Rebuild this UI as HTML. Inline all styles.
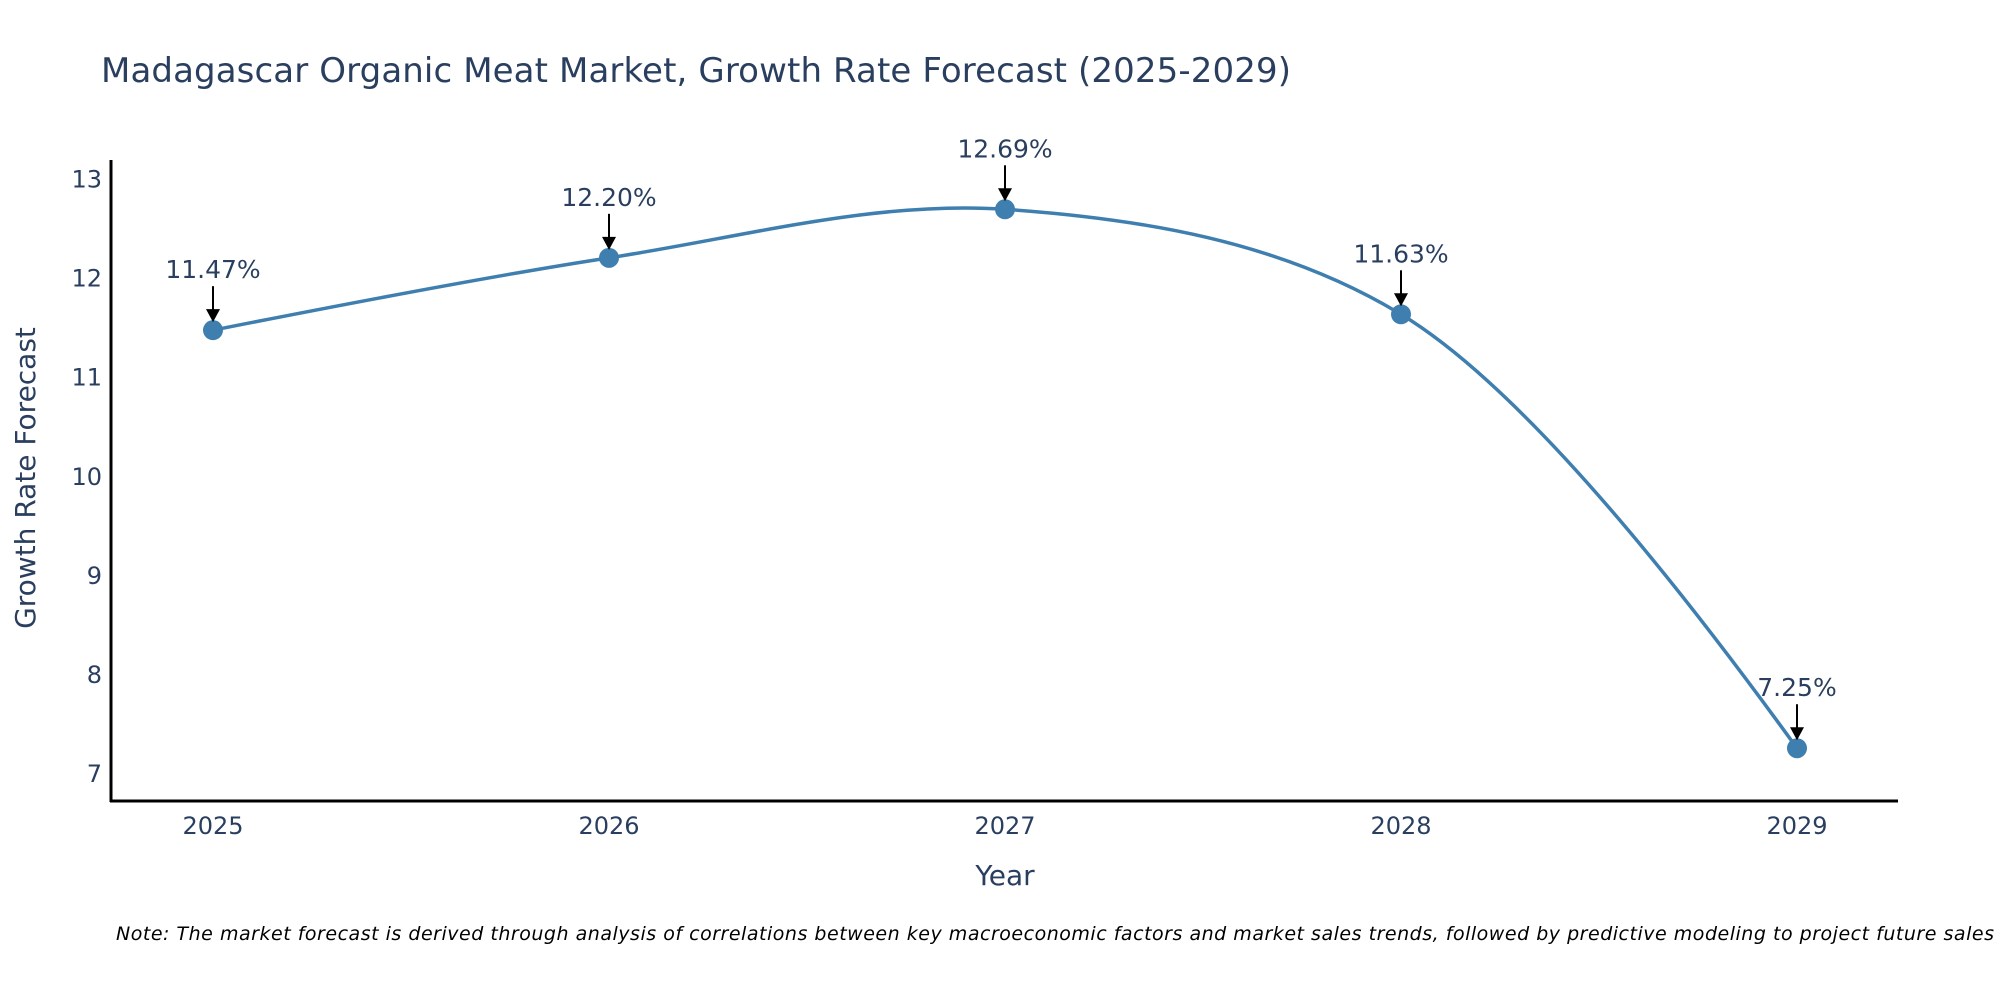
<!DOCTYPE html>
<html><head><meta charset="utf-8"><style>
body{margin:0;background:#fff;}
svg{display:block;font-family:"DejaVu Sans","Liberation Sans",sans-serif;}
</style></head><body>
<svg id="chart" width="2000" height="1000" viewBox="0 0 2000 1000" xmlns="http://www.w3.org/2000/svg">
<rect width="2000" height="1000" fill="#fff"/>
<text x="101" y="82" font-size="34" fill="#2a3f5f" textLength="1190">Madagascar Organic Meat Market, Growth Rate Forecast (2025-2029)</text>
<g id="yticks"></g>
<g id="xticks"></g>
<line x1="111" y1="160" x2="111" y2="802" stroke="#000" stroke-width="3"/>
<line x1="110" y1="801" x2="1898" y2="801" stroke="#000" stroke-width="3"/>
<text transform="translate(35,478) rotate(-90)" text-anchor="middle" font-size="28" fill="#2a3f5f">Growth Rate Forecast</text>
<text x="1005" y="885" text-anchor="middle" font-size="28" fill="#2a3f5f">Year</text>
<path id="line" fill="none" stroke="#3f7fb0" stroke-width="3.5"/>
<g id="points"></g>
<g id="annots"></g>
<text x="116" y="940" font-size="19" font-style="italic" fill="#000" textLength="1878">Note: The market forecast is derived through analysis of correlations between key macroeconomic factors and market sales trends, followed by predictive modeling to project future sales</text>
</svg>
<script>
const years = [2025, 2026, 2027, 2028, 2029];
const values = [11.47, 12.20, 12.69, 11.63, 7.25];
const labels = ["11.47%", "12.20%", "12.69%", "11.63%", "7.25%"];
const yTicks = [7, 8, 9, 10, 11, 12, 13];

const NS = "http://www.w3.org/2000/svg";
function xs(v){ return 213 + (v - 2025) * 396; }
function ys(v){ return 773 - (v - 7) * 99.07; }
function mk(tag, attrs, parent){ const e=document.createElementNS(NS,tag); for(const k in attrs) e.setAttribute(k,attrs[k]); parent.appendChild(e); return e; }

const yt=document.getElementById('yticks');
yTicks.forEach(t=>{
  const e=mk('text',{x:102,y:ys(t)+9,'text-anchor':'end','font-size':24,fill:'#2a3f5f'},yt);
  
  
  e.textContent=t;
});
const xt=document.getElementById('xticks');
years.forEach(t=>{
  const e=mk('text',{x:xs(t),y:834,'text-anchor':'middle','font-size':24,fill:'#2a3f5f'},xt);
  
  
  e.textContent=t;
});

const pts = years.map((y,i)=>[xs(y), ys(values[i])]);
function tangent(p0,p1,p2,s){
  const d1x=p0[0]-p1[0], d1y=p0[1]-p1[1], d2x=p2[0]-p1[0], d2y=p2[1]-p1[1];
  const d1a=Math.pow(d1x*d1x+d1y*d1y,0.25), d2a=Math.pow(d2x*d2x+d2y*d2y,0.25);
  const nx=(d2a*d2a*d1x-d1a*d1a*d2x)*s, ny=(d2a*d2a*d1y-d1a*d1a*d2y)*s;
  const den1=3*d2a*(d1a+d2a), den2=3*d1a*(d1a+d2a);
  return [[p1[0]+nx/den1,p1[1]+ny/den1],[p1[0]-nx/den2,p1[1]-ny/den2]];
}
const tg=[];
for(let i=1;i<pts.length-1;i++) tg.push(tangent(pts[i-1],pts[i],pts[i+1],1));
let d='M'+pts[0]+'Q'+tg[0][0]+' '+pts[1];
for(let i=1;i<pts.length-2;i++) d+='C'+tg[i-1][1]+' '+tg[i][0]+' '+pts[i+1];
d+='Q'+tg[tg.length-1][1]+' '+pts[pts.length-1];
document.getElementById('line').setAttribute('d',d);

const pg=document.getElementById('points');
const ag=document.getElementById('annots');
pts.forEach((p,i)=>{
  const c=mk('circle',{cx:p[0],cy:p[1],r:10,fill:'#3f7fb0'},pg);
  
  
  const l=mk('line',{x1:p[0],y1:p[1]-44,x2:p[0],y2:p[1]-20,stroke:'#000','stroke-width':2},ag);
  
  
  const h=mk('polygon',{points:`${p[0]-7},${p[1]-21} ${p[0]+7},${p[1]-21} ${p[0]},${p[1]-8}`,fill:'#000'},ag);
  
  
  const t=mk('text',{x:p[0],y:p[1]-52,'text-anchor':'middle','font-size':25,fill:'#2a3f5f'},ag);
  
  
  t.textContent=labels[i];
});
</script>
</body></html>
